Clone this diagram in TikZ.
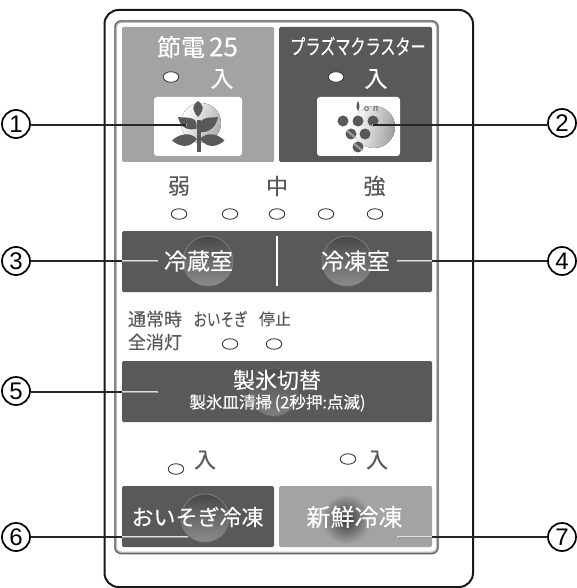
\documentclass[tikz,border=0pt]{standalone}
\usepackage{fontspec}
\setmainfont{Liberation Sans}
\newfontfamily\cjk[FakeBold=0.15]{Noto Sans CJK JP}
\definecolor{dk}{HTML}{58595B}
\definecolor{lt}{HTML}{A2A3A5}
\definecolor{tx}{HTML}{58595B}
\newcommand{\fs}[1]{\fontsize{#1}{#1}\selectfont}
\tikzset{
  x=1pt,y=-1pt,
  panel/.style={rectangle,rounded corners=1.5,inner sep=0,outer sep=0},
  darkbtn/.style={panel,fill=dk},
  lightbtn/.style={panel,fill=lt},
  txt/.style={inner sep=0,font=\cjk,text=white},
  gtxt/.style={inner sep=0,font=\cjk,text=tx},
  led/.style={ellipse,draw=black!85,line width=0.8,fill=white,minimum width=15.5,minimum height=10.5,inner sep=0},
  num/.style={circle,draw=black,line width=1.7,minimum size=28,inner sep=0,fill=white,font=\fs{24}},
  leader/.style={line width=1.2,draw=black!85},
  halo/.style={line width=2.6,draw=white!88!black,line cap=round},
  core/.style={line width=0.7,draw=black!40},
}
\usetikzlibrary{shapes.geometric}
\begin{document}
\begin{tikzpicture}
\useasboundingbox (0,0) rectangle (577,588);
\fill[white] (0,0) rectangle (577,588);
% frames
\draw[line width=2,black!90,rounded corners=14] (104.5,10) rectangle (473,587);
\draw[line width=3,black!25,rounded corners=6] (115.5,21.5) rectangle (437.5,553);
\draw[line width=1.3,black!60,rounded corners=6] (115,21) rectangle (438,553.5);
% top buttons
\node[lightbtn,minimum width=152,minimum height=135] (bSetsu) at (198,94.5) {};
\node[darkbtn,minimum width=153,minimum height=135] (bPlasma) at (355.5,94.5) {};
\node[panel,fill=white,minimum width=88,minimum height=59,rounded corners=3] (iSetsu) at (198,126.5) {};
\node[panel,fill=white,minimum width=83,minimum height=59,rounded corners=3] (iPlasma) at (358.5,126.5) {};
% plant icon
\fill[left color=white,middle color=black!5,right color=black!32,shading angle=65] (201,123) circle (20);
\begin{scope}[fill=dk]
\fill (198,101) .. controls (202,104) and (206,108) .. (198,117) .. controls (190,108) and (194,104) .. (198,101) -- cycle;
\fill (178,117) .. controls (184,118) and (196,116) .. (196.5,124) -- (196.5,129) .. controls (190,130) and (181,130) .. (178,117) -- cycle;
\fill (218,117) .. controls (212,118) and (201,116) .. (200.5,124) -- (200.5,132) .. controls (208,133) and (216,128) .. (218,117) -- cycle;
\fill (172,140.5) .. controls (180,133) and (191,132) .. (197,139) .. controls (189,149) and (180,147) .. (172,140.5) -- cycle;
\fill (224.5,140.5) .. controls (217,133) and (206,132) .. (200,139) .. controls (208,149) and (217,147) .. (224.5,140.5) -- cycle;
\fill (196.5,120) rectangle (201,152);
\end{scope}
% grape icon
\fill[left color=white,middle color=black!6,right color=black!38,shading angle=80] (374,127) circle (21);
\begin{scope}[fill=dk]
\foreach \p in {(343,121),(358,121),(373,121),(365,134)} \fill \p circle (5.5);
\foreach \p in {(351,134),(358,147)} {
  \fill \p circle (5.5);
  \begin{scope}\clip \p circle (5.5);
  \draw[line width=2,black!38] \p ++(-6,-5) -- ++(12,10);
  \end{scope}
}
\fill (358,101) .. controls (360,105) and (360,108) .. (358,111) .. controls (356,108) and (356,105) .. (358,101) -- cycle;
\end{scope}
\node[inner sep=0,font=\fs{9},text=black!75] (tOn) at (371,109) {o\hspace{4pt}n};
% top texts
\node[txt,font=\cjk\fs{24}] (tSetsu) at (197.5,47) {節電\,{\fs{26}25}};
\node[txt,font=\cjk\fs{21}] (tPlasma) at (358,46) {\scalebox{0.72}[1]{プラズマクラスター}};
\node[led,fill=white,draw=black!80] (l1) at (171,77) {};
\node[led,fill=white,draw=black!80] (l2) at (336,77) {};
\node[txt,font=\cjk\fs{23}] (tIri1) at (222,79) {入};
\node[txt,font=\cjk\fs{23}] (tIri2) at (376,79) {入};
% strength row
\node[gtxt,font=\cjk\fs{22}] (tJaku) at (179,186) {弱};
\node[gtxt,font=\cjk\fs{22}] (tChu) at (277,186) {中};
\node[gtxt,font=\cjk\fs{22}] (tKyo) at (374.5,186) {強};
\node[led] (l3) at (179,214) {};
\node[led] (l4) at (230,214) {};
\node[led] (l5) at (277,214) {};
\node[led] (l6) at (326,214) {};
\node[led] (l7) at (375,214) {};
% fridge/freezer
\node[darkbtn,minimum width=310,minimum height=61] (bRow) at (277,261.5) {};
\fill[top color=black!72,bottom color=black!45,draw=black!50,line width=0.8] (208,261) circle (25);
\fill[top color=black!72,bottom color=black!45,draw=black!50,line width=0.8] (347,261) circle (25);
\draw[white,line width=2] (276.5,236) -- (276.5,286);
\node[txt,font=\cjk\fs{23}] (tRei) at (198.5,261) {冷蔵室};
\node[txt,font=\cjk\fs{23}] (tTou) at (355.5,261) {冷凍室};
% ice row texts
\node[gtxt,font=\cjk\fs{18}] (tTsu) at (155,319) {通常時};
\node[gtxt,font=\cjk\fs{18}] (tZen) at (155,342) {全消灯};
\node[gtxt,font=\cjk\fs{18}] (tOi) at (220.5,319) {\scalebox{0.75}[1]{おいそぎ}};
\node[gtxt,font=\cjk\fs{16}] (tTei) at (275,319) {停止};
\node[led] (l8) at (230,344) {};
\node[led] (l9) at (274,344) {};
% ice button
\node[darkbtn,minimum width=310,minimum height=61] (bIce) at (277,391.5) {};
\fill[top color=black!70,bottom color=black!50,draw=black!55,line width=0.6] (274,392) circle (24);
\node[txt,font=\cjk\fs{22}] (tIce) at (277,380) {製氷切替};
\node[txt,font=\cjk\fs{16.5}] (tIce2) at (277.5,403) {製氷皿清掃\,(2秒押:点滅)};
% bottom
\node[led] (l10) at (176,469) {};
\node[led] (l11) at (348,459) {};
\node[gtxt,font=\cjk\fs{22}] (tIri3) at (205,460) {入};
\node[gtxt,font=\cjk\fs{22}] (tIri4) at (377,460) {入};
\node[darkbtn,minimum width=152,minimum height=61] (bOi) at (198,516.5) {};
\node[lightbtn,minimum width=153,minimum height=61] (bShin) at (355.5,516.5) {};
\fill[top color=black!72,bottom color=black!45,draw=black!50,line width=0.8] (205,518) circle (24);
\shade[inner color=black!78,outer color=lt] (346,519) circle (25);
\node[txt,font=\cjk\fs{22}] (tOiR) at (197.5,517) {おいそぎ冷凍};
\node[txt,font=\cjk\fs{24}] (tShin) at (354.5,517) {新鮮冷凍};
% callouts
\node[num] (n1) at (16,124) {1};
\node[num] (n2) at (562,123) {2};
\node[num] (n3) at (16,261) {3};
\node[num] (n4) at (562,261) {4};
\node[num] (n5) at (16,391) {5};
\node[num] (n6) at (16,537) {6};
\node[num] (n7) at (562,537) {7};
\coordinate (e1) at (186,125);
\coordinate (e2) at (373,125);
\coordinate (e3) at (157,261);
\coordinate (e4) at (398,261);
\coordinate (e5) at (157,392);
\coordinate (e6) at (187,537);
\coordinate (e7) at (398,537);
\coordinate (s1) at (122,125);
\coordinate (s2) at (432,125);
\coordinate (s3) at (122,261);
\coordinate (s4) at (432,261);
\coordinate (s5) at (122,392);
\coordinate (s6) at (122,537);
\coordinate (s7) at (432,537);
\foreach \a/\b in {s1/e1,s2/e2,s3/e3,s4/e4,s5/e5,s6/e6,s7/e7} \draw[halo] (\a) -- (\b);
\draw[leader] (n1.east |- e1) -- (e1);
\draw[leader] (n2.west |- e2) -- (e2);
\draw[leader] (n3) -- (s3);
\draw[leader] (n4) -- (s4);
\draw[leader] (n5.east |- e5) -- (s5);
\draw[leader] (n6) -- (s6);
\draw[leader] (n7) -- (s7);
\foreach \a/\b in {s3/e3,s4/e4,s5/e5,s6/e6,s7/e7} \draw[core] (\a) -- (\b);
\end{tikzpicture}
\end{document}
